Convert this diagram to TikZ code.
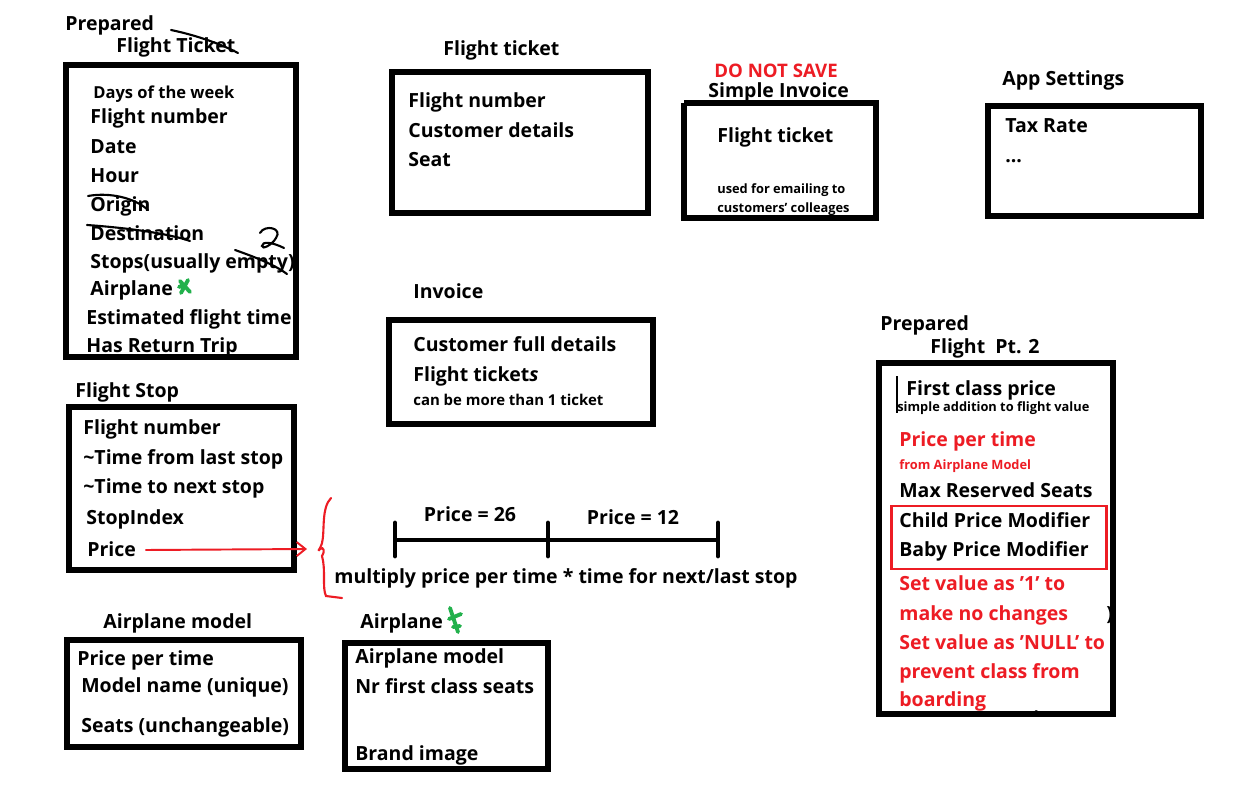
\documentclass[tikz,border=0pt]{standalone}
\usepackage{fontspec}
\setmainfont{Open Sans}
\usetikzlibrary{arrows.meta}
\usetikzlibrary{positioning}
\definecolor{paintred}{HTML}{ED1C24}
\definecolor{paintgreen}{HTML}{22B14C}

\begin{document}
\begin{tikzpicture}[x=0.02cm,y=-0.02cm,
  box/.style={black,line width=3.4pt},
  txt/.style={anchor=west,inner sep=0pt,text height=0.72em,text depth=0pt,font=\fontsize{11.1}{13}\bfseries\selectfont},
  sml/.style={txt,font=\fontsize{7.3}{8}\bfseries\selectfont},
  redtxt/.style={text=paintred},
  strike/.style={black,line width=1.2pt,line cap=round},
  greenmark/.style={paintgreen,line width=2.2pt,line cap=round}]
\useasboundingbox[fill=white] (0,0) rectangle (1235,811);

% prepared flight ticket
\node[txt] (pftA) at (65,24) {Prepared};
\node[txt] (pftB) at (116,46) {Flight Ticket};
\draw[strike] (171,30) .. controls (200,36) and (225,46) .. (238,53);
\draw[box] (66,65) rectangle (296,357);
\node[txt,font=\fontsize{9.4}{11}\bfseries\selectfont] (days) at (93,92) {Days of the week};
\node[txt] (fnum) at (90,117) {Flight number};
\node[txt] (date) at (90,147) {Date};
\node[txt] (hour) at (90,176) {Hour};
\node[txt] (orig) at (90,205) {Origin};
\draw[strike] (88,196) .. controls (110,192) and (135,198) .. (148,210);
\node[txt] (dest) at (90,234) {Destination};
\draw[strike] (87,225) .. controls (130,228) and (170,234) .. (190,241);
\node[txt] (stops) at (90,262) {Stops(usually empty)};
\draw[strike] (235,250) .. controls (255,257) and (275,265) .. (287,274);
\draw[strike] (260,233) .. controls (265,224) and (283,228) .. (276,238)
  .. controls (272,245) and (262,250) .. (262,246)
  .. controls (262,241) and (272,242) .. (284,248);
\node[txt] (plane) at (90,289) {Airplane};
\draw[greenmark] (180,281) -- (190,292) (188,280) -- (181,293) (179,287) -- (186,284);
\node[txt] (est) at (86,318) {Estimated flight time};
\node[txt] (ret) at (86,346) {Has Return Trip};

% flight ticket
\node[txt] (ftT) at (443,49) {Flight ticket};
\draw[box] (392,72) rectangle (648,213);
\node[txt] (ftA) at (408,101) {Flight number};
\node[txt] (ftB) at (408,131) {Customer details};
\node[txt] (ftC) at (408,160) {Seat};

% simple invoice
\node[txt,redtxt,font=\fontsize{10.6}{13}\bfseries\selectfont] (dns) at (714,71) {DO NOT SAVE};
\node[txt] (siT) at (708,91) {Simple Invoice};
\draw[box] (684,103) -- (879,103) (684,103) -- (684,218) -- (879,218) (876,103) -- (876,218);
\node[txt] (siA) at (717,136) {Flight ticket};
\node[sml] (siB) at (717,187) {used for emailing to};
\node[sml] (siC) at (717,206) {customers' colleages};

% app settings
\node[txt] (asT) at (1002,79) {App Settings};
\draw[box] (988,106) rectangle (1201,216);
\node[txt] (asA) at (1005,126) {Tax Rate};
\node[txt] (asB) at (1005,156) {...};

% invoice
\node[txt] (invT) at (413,292) {Invoice};
\draw[box] (389,320) rectangle (653,424);
\node[txt] (invA) at (413,345) {Customer full details};
\node[txt] (invB) at (413,375) {Flight ticket\textit{s}};
\node[sml,font=\fontsize{8.5}{9}\bfseries\selectfont] (invC) at (413,399) {can be more than 1 ticket};

% flight stop
\node[txt] (fsT) at (75,391) {Flight Stop};
\draw[box] (69,407) rectangle (294,570);
\node[txt] (fsA) at (83,428) {Flight number};
\node[txt] (fsB) at (83,458) {\textasciitilde Time from last stop};
\node[txt] (fsC) at (83,487) {\textasciitilde Time to next stop};
\node[txt] (fsD) at (86,518) {StopIndex};
\node[txt] (price) at (87,550) {Price};
\coordinate (brc) at (307,549);
\draw[paintred,line width=1.1pt,-{Straight Barb[length=5pt,width=8pt]}] (price.east) ++(9,0) -- (brc);
\draw[paintred,line width=1.2pt,line cap=round] (331,498) .. controls (321,508) and (325,532) .. (322,543)
  .. controls (320,550) and (316,553) .. (320,549) .. controls (324,546) and (325,552) .. (322,556)
  .. controls (326,570) and (322,588) .. (326,596) -- (342,598);

% price line
\coordinate (t1) at (395,540);
\coordinate (t2) at (548,540);
\coordinate (t3) at (718,540);
\draw[black,line width=2.8pt] (t1) -- (t3);
\foreach \p in {t1,t2,t3}
  \draw[black,line width=2.8pt,line cap=round] (\p) ++(0,-17) -- ++(0,33);
\node[txt,anchor=center] (pA) at (470,515) {Price = 26};
\node[txt,anchor=center] (pB) at (633,518) {Price = 12};
\node[txt] (mult) at (334,577) {multiply price per time * time for next/last stop};

% airplane model
\node[txt] (amT) at (103,622) {Airplane model};
\draw[box] (67,640) rectangle (301,747);
\node[txt] (amA) at (77,659) {Price per time};
\node[txt] (amB) at (81,686) {Model name (unique)};
\node[txt] (amC) at (81,726) {Seats (unchangeable)};

% airplane
\node[txt] (apT) at (360,622) {Airplane};
\draw[greenmark] (450,608) -- (458,632) (449,619) -- (461,614) (453,627) -- (460,626);
\draw[box] (345,643) rectangle (548,769);
\node[txt] (apA) at (355,657) {Airplane model};
\node[txt] (apB) at (355,687) {Nr first class seats};
\node[txt] (apC) at (355,754) {Brand image};

% prepared flight pt 2
\node[txt] (pf2A) at (880,324) {Prepared};
\node[txt] (pf2B) at (930,347) {Flight\ \ Pt. 2};
\begin{scope}
  \clip (882,709) rectangle (1110,714);
  \node[txt] (hidden) at (900,719) {Has Return Trip};
\end{scope}
\draw[box] (879,363) rectangle (1113,714);
\draw[black,line width=0.6pt] (897,376) -- (897,413);
\node[txt] (fcp) at (906,389) {First class price};
\node[sml] (fcpB) at (897,405) {simple addition to flight value};
\node[txt,redtxt] (ppt) at (899,440) {Price per time};
\node[sml,redtxt] (pptB) at (899,463) {from Airplane Model};
\node[txt] (mrs) at (899,491) {Max Reserved Seats};
\draw[paintred,line width=1.7pt] (891,506) rectangle (1106,569);
\node[txt] (cpm) at (899,521) {Child Price Modifier};
\node[txt] (bpm) at (899,550) {Baby Price Modifier};
\node[txt,redtxt] (svA) at (899,584) {Set value as '1' to};
\node[txt,redtxt] (svB) at (899,614) {make no changes};
\node[txt] (par) at (1106,614) {)};
\node[txt,redtxt] (svC) at (899,643) {Set value as 'NULL' to};
\node[txt,redtxt] (svD) at (899,672) {prevent class from};
\node[txt,redtxt] (svE) at (899,700) {boarding};
\end{tikzpicture}
\end{document}
